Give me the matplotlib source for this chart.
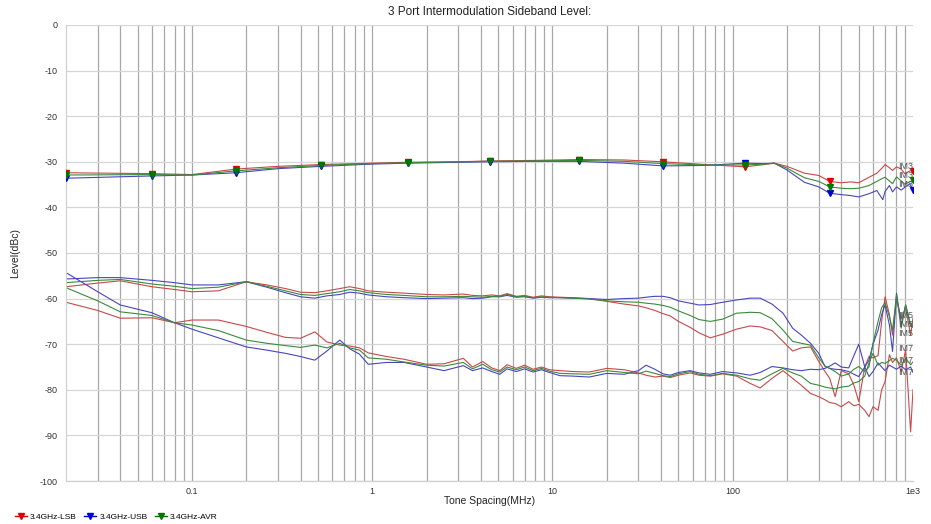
import matplotlib
matplotlib.use('Agg')
import matplotlib.pyplot as plt
from matplotlib.lines import Line2D
from matplotlib.ticker import FixedLocator, NullFormatter

plt.rcParams['font.family'] = ['Liberation Sans', 'DejaVu Sans']
plt.rcParams['axes.unicode_minus'] = False

# ---- data ----
# IM3 tone spacing points (MHz)
f_im3 = [0.02, 0.06, 0.1, 0.175, 0.3, 0.52, 1.0, 1.58, 3, 4.5, 8, 14, 25, 41, 70, 117,
         150, 170, 200, 250, 300, 345, 400, 450, 500, 570, 630, 680, 700, 740, 770, 810,
         860, 900, 960, 1000]
im3_lsb = [-32.4, -32.6, -32.8, -31.6, -31.0, -30.6, -30.3, -30.1, -30.0, -29.8, -29.7, -29.5,
           -29.6, -30.0, -30.6, -31.1, -30.6, -30.3, -31.0, -32.5, -33.0, -34.3, -34.6, -34.4,
           -34.6, -33.4, -32.5, -31.2, -30.6, -31.3, -31.9, -31.1, -31.6, -32.6, -32.0, -32.0]
im3_usb = [-33.6, -33.1, -32.9, -32.4, -31.5, -31.0, -30.5, -30.3, -30.1, -30.0, -29.9, -29.9,
           -30.3, -30.9, -30.8, -30.3, -30.4, -30.3, -31.8, -34.5, -35.5, -36.9, -37.2, -37.4,
           -37.7, -37.0, -36.3, -38.3, -36.5, -35.2, -36.6, -35.5, -36.2, -35.6, -34.8, -36.2]
im3_avr = [-32.9, -32.8, -32.9, -32.0, -31.3, -30.8, -30.4, -30.2, -30.0, -29.9, -29.8, -29.7,
           -29.9, -30.4, -30.7, -30.7, -30.5, -30.3, -31.4, -33.5, -34.3, -35.5, -35.8, -35.9,
           -35.8, -35.2, -34.3, -33.6, -33.4, -34.2, -34.8, -33.3, -34.2, -34.9, -34.4, -34.0]
im3_marker_idx = [0, 1, 3, 5, 7, 9, 11, 13, 15, 21, 35]

# IM5 / IM7 tone spacing points (MHz)
f_im57 = [0.02, 0.03, 0.04, 0.06, 0.08, 0.1, 0.14, 0.2, 0.26, 0.33, 0.4, 0.48, 0.56, 0.66,
          0.75, 0.85, 0.95, 1.2, 1.5, 2.0, 2.5, 3.2, 3.6, 4.1, 4.6, 5.1, 5.6, 6.3, 7.0, 7.8,
          8.7, 9.6, 11, 13, 16, 20, 25, 30, 33, 37, 41, 45, 50, 58, 65, 75, 88, 105, 125,
          142, 165, 190, 215, 240, 270, 300, 325, 345, 370, 400, 440, 470, 500, 540, 570,
          600, 640, 670, 700, 740, 770, 810, 860, 910, 970, 1000]
im5_lsb = [-57.4, -56.6, -56.1, -57.4, -58.0, -58.5, -58.3, -56.3, -57.0, -57.8, -58.6, -58.7,
           -58.3, -57.8, -57.4, -57.8, -58.3, -58.6, -58.8, -59.1, -59.2, -59.0, -59.3, -59.4,
           -59.2, -59.4, -58.9, -59.5, -59.3, -59.7, -59.4, -59.6, -59.7, -59.8, -60.0, -60.6,
           -61.2, -61.6, -62.0, -62.6, -63.3, -63.8, -65.0, -66.3, -67.5, -68.6, -67.8, -66.7,
           -66.0, -66.2, -67.0, -69.4, -71.5, -70.8, -70.6, -73.8, -76.0, -77.5, -81.5, -75.8,
           -76.5, -79.0, -82.6, -75.0, -72.7, -73.0, -72.5, -65.0, -59.6, -63.5, -68.0, -60.0,
           -64.5, -62.0, -68.0, -64.2]
im5_usb = [-55.7, -55.4, -55.4, -56.0, -56.5, -57.0, -57.0, -56.3, -57.5, -58.7, -59.6, -59.9,
           -59.4, -59.1, -58.6, -58.8, -59.2, -59.6, -59.8, -60.0, -59.9, -59.8, -60.0, -59.9,
           -59.6, -59.6, -59.3, -59.7, -59.6, -59.9, -59.7, -59.8, -59.8, -59.9, -60.0, -60.2,
           -60.0, -59.9, -59.7, -59.5, -59.5, -59.8, -60.5, -61.0, -61.4, -61.3, -60.8, -60.3,
           -59.9, -59.9, -61.2, -63.2, -66.5, -68.0, -69.8, -72.0, -74.9, -75.3, -75.5, -75.6,
           -76.0, -76.6, -77.1, -75.0, -73.5, -70.0, -66.9, -63.5, -61.4, -65.8, -71.6, -58.8,
           -65.8, -61.4, -65.8, -66.3]
im5_avr = [-56.5, -56.0, -55.8, -56.8, -57.3, -57.8, -57.5, -56.3, -57.3, -58.3, -59.1, -59.3,
           -58.9, -58.5, -58.0, -58.3, -58.7, -59.1, -59.3, -59.6, -59.6, -59.5, -59.6, -59.7,
           -59.5, -59.5, -59.1, -59.6, -59.5, -59.8, -59.6, -59.7, -59.8, -59.9, -60.1, -60.5,
           -60.7, -60.8, -61.0, -61.2, -61.5, -61.9, -62.7, -63.7, -64.6, -65.0, -64.5, -63.2,
           -63.0, -63.1, -64.4, -66.9, -69.4, -69.8, -70.2, -73.0, -74.8, -75.3, -76.0, -77.0,
           -76.5, -75.5, -74.9, -76.0, -75.0, -69.8, -65.0, -62.0, -60.9, -64.0, -66.9, -59.2,
           -66.5, -61.4, -66.0, -65.0]
im7_lsb = [-60.8, -62.6, -64.3, -64.2, -65.3, -64.7, -64.7, -66.1, -67.4, -68.5, -68.7, -67.3,
           -69.5, -70.2, -70.4, -70.8, -71.9, -72.7, -73.3, -74.4, -74.3, -73.1, -75.0, -73.8,
           -75.2, -75.8, -74.5, -75.3, -74.6, -75.5, -75.0, -75.6, -75.8, -76.0, -76.1, -75.3,
           -75.6, -76.3, -76.8, -77.2, -77.0, -77.3, -76.8, -76.3, -76.8, -77.0, -76.5, -77.0,
           -78.6, -79.6, -77.5, -75.8, -77.5, -79.0, -80.8, -81.5, -82.2, -82.8, -83.0, -83.7,
           -82.6, -83.5, -83.2, -84.5, -85.9, -83.7, -84.5, -80.0, -78.2, -72.3, -74.0, -73.0,
           -76.0, -71.3, -89.2, -80.0]
im7_usb = [-54.3, -58.5, -61.4, -63.1, -65.3, -66.7, -68.6, -70.6, -71.3, -72.0, -72.7, -73.5,
           -71.5, -69.1, -71.0, -72.2, -74.4, -74.0, -74.0, -75.0, -75.8, -74.7, -75.8, -75.2,
           -76.0, -76.6, -75.4, -76.0, -75.4, -76.1, -75.6, -76.2, -76.9, -77.0, -77.2, -76.4,
           -76.6, -75.8, -74.6, -75.5, -76.5, -76.8, -76.2, -75.8, -76.3, -76.6, -76.0, -76.3,
           -76.8, -76.2, -74.9, -75.2, -75.6, -75.8, -75.5, -75.6, -75.3, -74.8, -74.1, -75.0,
           -75.2, -72.5, -70.0, -75.0, -77.1, -76.0, -74.1, -75.0, -75.8, -74.6, -75.0, -75.5,
           -74.8, -75.6, -75.0, -76.2]
im7_avr = [-57.6, -60.5, -62.9, -63.7, -65.3, -65.8, -67.0, -69.1, -69.8, -70.3, -70.7, -70.2,
           -70.8, -69.8, -70.8, -71.3, -73.0, -73.3, -73.9, -74.6, -74.8, -74.0, -75.4, -74.4,
           -75.6, -76.1, -75.0, -75.6, -75.0, -75.8, -75.3, -75.9, -76.4, -76.5, -76.6, -75.8,
           -76.2, -76.5, -75.9, -76.4, -76.9, -77.1, -76.5, -76.0, -76.6, -76.9, -76.4, -76.8,
           -77.6, -77.9, -76.5, -75.3, -76.3, -77.0, -78.6, -79.0, -79.4, -79.6, -79.8, -79.4,
           -79.2, -78.5, -78.2, -77.0, -74.1, -72.0, -74.6, -74.0, -74.2, -73.6, -73.1, -73.5,
           -74.6, -73.1, -74.5, -73.9]

x_ticks = [0.1, 1, 10, 100, 1000]
x_ticklabels = ['0.1', '1', '10', '100', '1e3']
y_ticks = list(range(-100, 1, 10))

line_col = {'LSB': '#c84848', 'USB': '#4646c0', 'AVR': '#3a8a3a'}
mark_col = {'LSB': '#e00000', 'USB': '#0000dd', 'AVR': '#007800'}

# where the end-of-curve tags sit (dBc)
tag_y = {'LSB': {'IM3': -31.0, 'IM5': -63.6, 'IM7': -70.9},
         'AVR': {'IM3': -33.0, 'IM5': -65.6, 'IM7': -73.6},
         'USB': {'IM3': -35.0, 'IM5': -67.6, 'IM7': -76.3}}

# ---- figure ----
fig = plt.figure(figsize=(9.31, 5.24), dpi=100)
ax = fig.add_axes([66 / 931, 1 - 481 / 524, (913 - 66) / 931, (481 - 25) / 524])

ax.set_xscale('log')
ax.set_xlim(0.02, 1000)
ax.set_ylim(-100, 0)

# grid: every 1..9 per decade vertically, every 10 dB horizontally
vlines = [m * 10 ** e for e in range(-2, 3) for m in range(1, 10)]
vlines = [v for v in vlines if 0.02 < v <= 1000]
for v in vlines:
    ax.axvline(v, color='#a8a8a8', lw=0.9, zorder=0)
for y in y_ticks:
    ax.axhline(y, color='#d6d6d6', lw=0.9, zorder=0)

series = [
    ('LSB', im3_lsb, im5_lsb, im7_lsb),
    ('USB', im3_usb, im5_usb, im7_usb),
    ('AVR', im3_avr, im5_avr, im7_avr),
]
for key, y3, y5, y7 in series:
    ax.plot(f_im57, y5, color=line_col[key], lw=0.8, zorder=2)
    ax.plot(f_im57, y7, color=line_col[key], lw=0.8, zorder=2)
    ax.plot(f_im3, y3, color=line_col[key], lw=0.8, zorder=3,
            marker='v', markevery=im3_marker_idx, markersize=4.5,
            markerfacecolor=mark_col[key], markeredgecolor=mark_col[key])

# curve end labels
for key in ('LSB', 'AVR', 'USB'):
    for name in ('IM3', 'IM5', 'IM7'):
        ax.text(1000, tag_y[key][name], name, ha='right', va='center', fontsize=6.5,
                color='#555555', zorder=4)

ax.xaxis.set_major_locator(FixedLocator(x_ticks))
ax.xaxis.set_minor_formatter(NullFormatter())
ax.set_xticks(x_ticks)
ax.set_xticklabels(x_ticklabels)
ax.set_yticks(y_ticks)
ax.tick_params(axis='both', which='both', length=0, labelsize=6.5, colors='#333333')
ax.tick_params(axis='x', pad=4)
ax.tick_params(axis='y', pad=6)

for s in ['top', 'right']:
    ax.spines[s].set_visible(False)
for s in ['left', 'bottom']:
    ax.spines[s].set_color('#d0d0d0')
    ax.spines[s].set_linewidth(0.9)

ax.set_title('3 Port Intermodulation Sideband Level:', fontsize=8.5, color='#222222', pad=7)
ax.set_xlabel('Tone Spacing(MHz)', fontsize=7.5, color='#222222', labelpad=0)
ax.set_ylabel('Level(dBc)', fontsize=7.5, color='#222222', labelpad=14)

handles = [Line2D([0], [0], color=mark_col[k], marker='v', markersize=4.5, lw=1.0)
           for k in ('LSB', 'USB', 'AVR')]
fig.legend(handles, ['3.4GHz-LSB', '3.4GHz-USB', '3.4GHz-AVR'],
           loc='lower left', bbox_to_anchor=(0.008, -0.008), ncol=3, frameon=False,
           fontsize=6, handlelength=1.4, handletextpad=0.4, columnspacing=0.9)

plt.savefig('out.png', dpi=100)
